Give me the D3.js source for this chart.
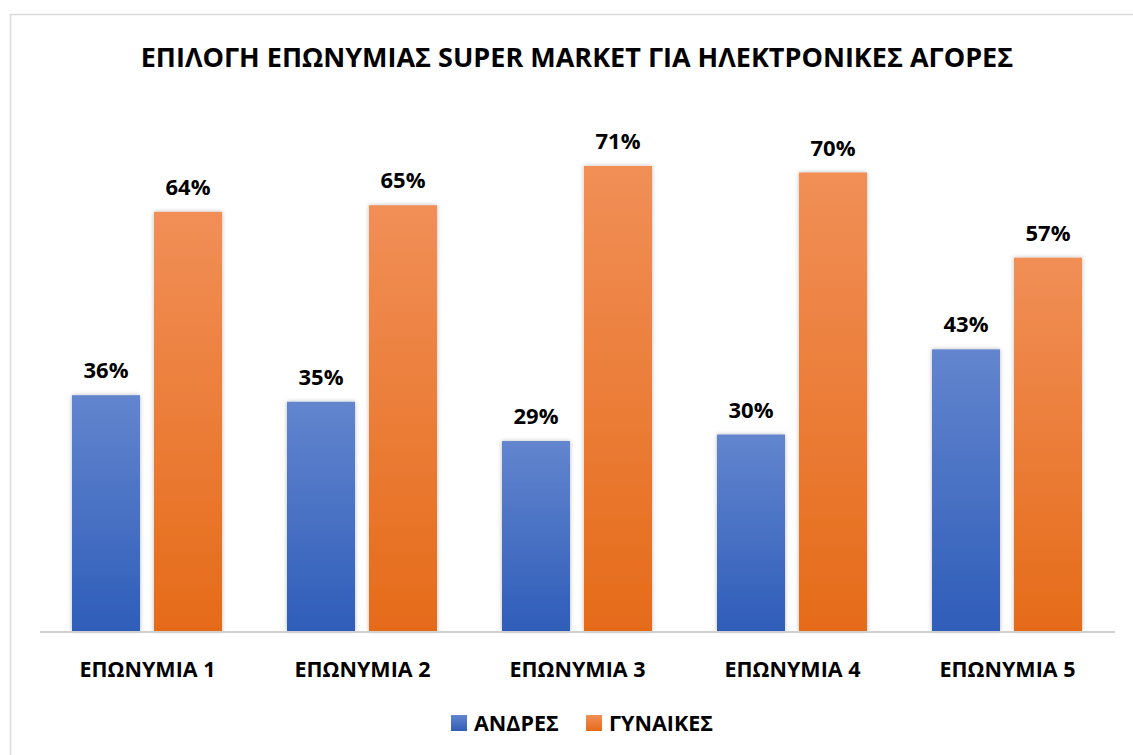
<!DOCTYPE html>
<html>
<head>
<meta charset="utf-8">
<script src="https://cdn.jsdelivr.net/npm/d3@7"></script>
<style>
  html, body { margin: 0; padding: 0; background: #fff; }
  svg { display: block; font-family: "Open Sans", "Noto Sans", sans-serif; }
</style>
</head>
<body>
<svg id="chart" width="1133" height="755"></svg>
<script>
// Chart content
const title = "ΕΠΙΛΟΓΗ ΕΠΩΝΥΜΙΑΣ SUPER MARKET ΓΙΑ ΗΛΕΚΤΡΟΝΙΚΕΣ ΑΓΟΡΕΣ";
const categories = ["ΕΠΩΝΥΜΙΑ 1", "ΕΠΩΝΥΜΙΑ 2", "ΕΠΩΝΥΜΙΑ 3", "ΕΠΩΝΥΜΙΑ 4", "ΕΠΩΝΥΜΙΑ 5"];
const seriesNames = ["ΑΝΔΡΕΣ", "ΓΥΝΑΙΚΕΣ"];
const men = [36, 35, 29, 30, 43];
const women = [64, 65, 71, 70, 57];

const svg = d3.select("#chart");

// Outer chart frame
svg.append("rect")
  .attr("x", 10.5).attr("y", 14.5)
  .attr("width", 1140).attr("height", 760)
  .attr("fill", "#fff").attr("stroke", "#d9d9d9").attr("stroke-width", 1.5);

const defs = svg.append("defs");
function grad(id, top, bottom) {
  const g = defs.append("linearGradient").attr("id", id)
    .attr("x1", 0).attr("y1", 0).attr("x2", 0).attr("y2", 1);
  g.append("stop").attr("offset", "0%").attr("stop-color", top);
  g.append("stop").attr("offset", "100%").attr("stop-color", bottom);
}
grad("gBlue", "#6385ce", "#2f5db9");
grad("gOrange", "#f18f57", "#e56b19");
const shadow = defs.append("filter").attr("id", "barShadow")
  .attr("x", "-20%").attr("y", "-5%").attr("width", "140%").attr("height", "110%");
shadow.append("feDropShadow").attr("dx", 0).attr("dy", 0)
  .attr("stdDeviation", 2.2).attr("flood-color", "#000").attr("flood-opacity", 0.28);

const plot = { left: 40, right: 1115, top: 107, bottom: 631 };

const x0 = d3.scaleBand().domain(categories)
  .range([plot.left, plot.right]).paddingInner(0).paddingOuter(0);
const x1 = d3.scaleBand().domain(seriesNames)
  .range([32, x0.bandwidth() - 33]).paddingInner(0.17);
const y = d3.scaleLinear().domain([0, 80]).range([plot.bottom, plot.top]);

// Title
svg.append("text")
  .attr("x", 577).attr("y", 67)
  .attr("text-anchor", "middle")
  .attr("font-weight", 700).attr("font-size", 27)
  .attr("fill", "#000")
  .text(title);

const data = categories.map((c, i) => ({ cat: c, vals: [
  { s: seriesNames[0], v: men[i], fill: "url(#gBlue)" },
  { s: seriesNames[1], v: women[i], fill: "url(#gOrange)" }
]}));

const groups = svg.append("g").selectAll("g").data(data).join("g")
  .attr("transform", d => `translate(${x0(d.cat)},0)`);

groups.selectAll("rect").data(d => d.vals).join("rect")
  .attr("x", d => x1(d.s))
  .attr("y", d => y(d.v))
  .attr("width", x1.bandwidth())
  .attr("height", d => y(0) - y(d.v))
  .attr("fill", d => d.fill)
  .attr("filter", "url(#barShadow)");

groups.selectAll("text.val").data(d => d.vals).join("text")
  .attr("class", "val")
  .attr("x", d => x1(d.s) + x1.bandwidth() / 2)
  .attr("y", d => y(d.v) - 17)
  .attr("text-anchor", "middle")
  .attr("font-weight", 700).attr("font-size", 22)
  .attr("fill", "#000")
  .text(d => d.v + "%");

// Baseline
svg.append("line")
  .attr("x1", plot.left).attr("x2", plot.right)
  .attr("y1", plot.bottom + 1).attr("y2", plot.bottom + 1)
  .attr("stroke", "#d0d0d0").attr("stroke-width", 2);

// Category axis
const xAxis = d3.axisBottom(x0).tickSize(0).tickPadding(0);
const ax = svg.append("g").attr("transform", `translate(0,${plot.bottom})`).call(xAxis);
ax.select(".domain").remove();
ax.selectAll("text")
  .attr("dy", null)
  .attr("y", 46)
  .attr("font-family", "\"Open Sans\", \"Noto Sans\", sans-serif")
  .attr("font-weight", 700).attr("font-size", 21.5)
  .attr("fill", "#000");

// Legend
const legend = svg.append("g");
const legendItems = [
  { name: seriesNames[0], fill: "url(#gBlue)", x: 451 },
  { name: seriesNames[1], fill: "url(#gOrange)", x: 586 }
];
legendItems.forEach(it => {
  legend.append("rect")
    .attr("x", it.x).attr("y", 715).attr("width", 16).attr("height", 16)
    .attr("fill", it.fill);
  legend.append("text")
    .attr("x", it.x + 23).attr("y", 731)
    .attr("font-weight", 700).attr("font-size", 21.5)
    .attr("fill", "#000")
    .text(it.name);
});
</script>
</body>
</html>
